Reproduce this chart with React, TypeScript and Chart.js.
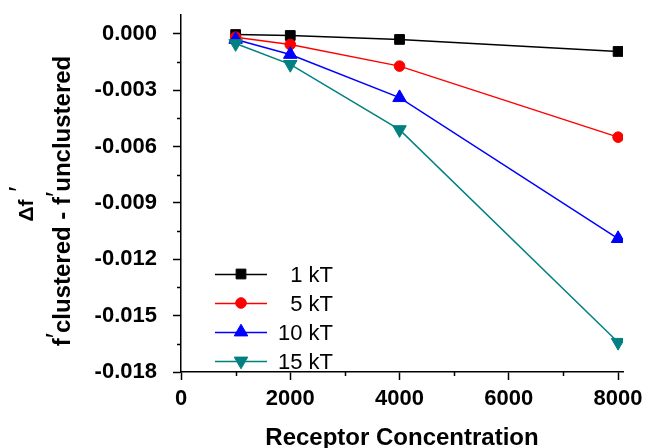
import React, { useEffect, useRef } from 'react';
import { Chart, registerables } from 'chart.js';

Chart.register(...registerables);

// ---- data ----
const receptorConcentration = [1000, 2000, 4000, 8000];
const series1kT = [-0.00004, -0.00009, -0.0003, -0.00094];
const series5kT = [-0.00018, -0.00057, -0.00172, -0.0055];
const series10kT = [-0.0003, -0.0011, -0.0034, -0.0109];
const series15kT = [-0.00052, -0.00163, -0.0051, -0.01642];
const seriesLabels = ['1 kT', '5 kT', '10 kT', '15 kT'];

const xTickValues = [0, 2000, 4000, 6000, 8000];
const xMinorTickValues = [1000, 3000, 5000, 7000];
const yTickValues = [-0.018, -0.015, -0.012, -0.009, -0.006, -0.003, 0];
const yMinorTickValues = [-0.0165, -0.0135, -0.0105, -0.0075, -0.0045, -0.0015];

const xTitle = 'Receptor Concentration';

// ---- styles ----
const FONT = "'Liberation Sans', Arial, sans-serif";
const seriesStyles = [
  { color: '#000000', pointStyle: 'rect', radius: 6.9, rotation: 0 },
  { color: '#ff0000', pointStyle: 'circle', radius: 5.3, rotation: 0 },
  { color: '#0000ff', pointStyle: 'triangle', radius: 7.8, rotation: 0 },
  { color: '#008080', pointStyle: 'triangle', radius: 7.8, rotation: 180 },
];
const seriesValues = [series1kT, series5kT, series10kT, series15kT];

function drawMarker(ctx: CanvasRenderingContext2D, style: string, r: number, rotation: number, x: number, y: number) {
  ctx.beginPath();
  if (style === 'rect') {
    const s = Math.SQRT1_2 * r;
    ctx.rect(x - s, y - s, 2 * s, 2 * s);
  } else if (style === 'circle') {
    ctx.arc(x, y, r, 0, Math.PI * 2);
  } else {
    const rad = (rotation * Math.PI) / 180;
    for (let i = 0; i < 3; i++) {
      const a = rad + (i * 2 * Math.PI) / 3;
      const px = x + Math.sin(a) * r;
      const py = y - Math.cos(a) * r;
      if (i === 0) ctx.moveTo(px, py);
      else ctx.lineTo(px, py);
    }
    ctx.closePath();
  }
  ctx.fill();
  ctx.stroke();
}

const minorTicksPlugin = {
  id: 'minorTicks',
  afterDraw(chart: any) {
    const { ctx, chartArea } = chart;
    const xs = chart.scales.x;
    const ys = chart.scales.y;
    ctx.save();
    ctx.strokeStyle = '#000';
    ctx.lineWidth = 1.5;
    ctx.beginPath();
    for (const v of xMinorTickValues) {
      const px = Math.round(xs.getPixelForValue(v)) + 0.5;
      ctx.moveTo(px, chartArea.bottom);
      ctx.lineTo(px, chartArea.bottom + 4);
    }
    for (const v of yMinorTickValues) {
      const py = Math.round(ys.getPixelForValue(v)) + 0.5;
      ctx.moveTo(chartArea.left - 4, py);
      ctx.lineTo(chartArea.left, py);
    }
    ctx.stroke();
    ctx.restore();
  },
};

type Seg = { t: string; sup?: boolean };

function drawSegments(ctx: CanvasRenderingContext2D, segs: Seg[], size: number, supSize: number, supRaise: number, cx: number, baseline: number) {
  const fontMain = `bold ${size}px ${FONT}`;
  const fontSup = `${supSize}px ${FONT}`;
  let total = 0;
  const widths: number[] = [];
  for (const s of segs) {
    ctx.font = s.sup ? fontSup : fontMain;
    const w = ctx.measureText(s.t).width;
    widths.push(w);
    total += w;
  }
  let x = cx - total / 2;
  segs.forEach((s, i) => {
    ctx.font = s.sup ? fontSup : fontMain;
    ctx.fillText(s.t, x, s.sup ? baseline - supRaise : baseline);
    x += widths[i];
  });
}

const titlesPlugin = {
  id: 'titles',
  afterDraw(chart: any) {
    const { ctx, chartArea } = chart;
    ctx.save();
    ctx.fillStyle = '#000';
    ctx.textBaseline = 'alphabetic';
    ctx.textAlign = 'left';
    // x title
    ctx.font = `bold 24px ${FONT}`;
    const xw = ctx.measureText(xTitle).width;
    ctx.fillText(xTitle, (chartArea.left + chartArea.right) / 2 - xw / 2, 445);
    // y title (rotated)
    ctx.save();
    ctx.translate(33, 204);
    ctx.rotate(-Math.PI / 2);
    drawSegments(ctx, [{ t: '\u0394f' }, { t: ' \u2032', sup: true }], 21, 28, 5, 0, 0);
    ctx.restore();
    ctx.save();
    ctx.translate(70, 201);
    ctx.rotate(-Math.PI / 2);
    drawSegments(
      ctx,
      [
        { t: 'f' },
        { t: '\u2032', sup: true },
        { t: 'clustered - f' },
        { t: '\u2032', sup: true },
        { t: 'unclustered' },
      ],
      24,
      28,
      5,
      0,
      0
    );
    ctx.restore();
    ctx.restore();
  },
};

const legendPlugin = {
  id: 'customLegend',
  afterDraw(chart: any) {
    const { ctx } = chart;
    const rowsY = [274, 303, 332, 361];
    ctx.save();
    seriesLabels.forEach((label, i) => {
      const st = seriesStyles[i];
      const y = rowsY[i];
      ctx.strokeStyle = st.color;
      ctx.fillStyle = st.color;
      ctx.lineWidth = 1.5;
      ctx.beginPath();
      ctx.moveTo(215, y + 0.5);
      ctx.lineTo(267, y + 0.5);
      ctx.stroke();
      ctx.lineWidth = 1;
      drawMarker(ctx, st.pointStyle, st.radius, st.rotation, 241, y);
      ctx.fillStyle = '#000';
      ctx.font = `22px ${FONT}`;
      ctx.textAlign = 'right';
      ctx.textBaseline = 'alphabetic';
      ctx.fillText(label, 333, y + 8);
    });
    ctx.restore();
  },
};

export default function App() {
  const ref = useRef<HTMLCanvasElement>(null);
  useEffect(() => {
    const canvas = ref.current;
    if (!canvas) return;
    const tickFont = { family: FONT, size: 22, weight: 'bold' as const };
    const chart = new Chart(canvas, {
      type: 'line',
      data: {
        datasets: seriesLabels.map((label, i) => ({
          label,
          data: receptorConcentration.map((x, j) => ({ x, y: seriesValues[i][j] })),
          borderColor: seriesStyles[i].color,
          backgroundColor: seriesStyles[i].color,
          borderWidth: 1.5,
          pointStyle: seriesStyles[i].pointStyle as any,
          pointRadius: seriesStyles[i].radius,
          pointRotation: seriesStyles[i].rotation,
          pointBorderWidth: 1,
          pointBorderColor: seriesStyles[i].color,
          pointBackgroundColor: seriesStyles[i].color,
          tension: 0,
          fill: false,
          order: 4 - i,
        })),
      },
      options: {
        animation: false,
        responsive: false,
        layout: { padding: { left: 0, top: 15, right: 23, bottom: 0 } },
        plugins: { legend: { display: false }, tooltip: { enabled: false } },
        scales: {
          x: {
            type: 'linear',
            min: 0,
            max: 8090,
            afterBuildTicks: (s: any) => {
              s.ticks = xTickValues.map((v) => ({ value: v }));
            },
            afterFit: (s: any) => {
              s.height = 76;
              s.paddingLeft = 0;
              s.paddingRight = 0;
            },
            ticks: {
              font: tickFont,
              color: '#000',
              padding: 6,
              maxRotation: 0,
              autoSkip: false,
              callback: (v: any) => String(v),
            },
            grid: {
              drawOnChartArea: false,
              drawTicks: true,
              tickLength: 8,
              tickWidth: 1.5,
              tickColor: '#000',
            },
            border: { color: '#000', width: 1.5 },
          },
          y: {
            type: 'linear',
            min: -0.018,
            max: 0.001,
            afterBuildTicks: (s: any) => {
              s.ticks = yTickValues.map((v) => ({ value: v }));
            },
            afterFit: (s: any) => {
              s.width = 181;
              s.paddingTop = 0;
              s.paddingBottom = 0;
            },
            ticks: {
              font: tickFont,
              color: '#000',
              padding: 16,
              autoSkip: false,
              callback: (v: any) => (Math.abs(Number(v)) < 1e-12 ? '0.000' : Number(v).toFixed(3)),
            },
            grid: {
              drawOnChartArea: false,
              drawTicks: true,
              tickLength: 8,
              tickWidth: 1.5,
              tickColor: '#000',
            },
            border: { color: '#000', width: 1.5 },
          },
        },
      },
      plugins: [minorTicksPlugin, titlesPlugin, legendPlugin],
    });
    return () => chart.destroy();
  }, []);
  return (
    <div style={{ position: 'absolute', left: 0, top: 0, width: 646, height: 448, background: '#fff' }}>
      <canvas ref={ref} width={646} height={448} style={{ display: 'block' }} />
    </div>
  );
}
